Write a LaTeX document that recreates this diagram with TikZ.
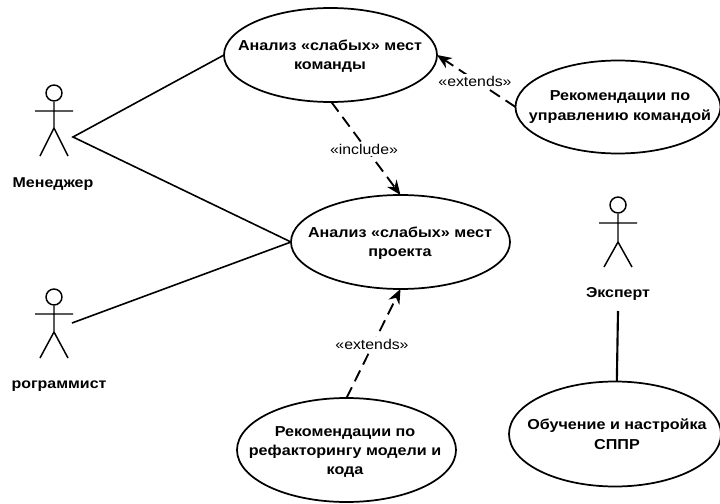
\documentclass[tikz,border=0pt]{standalone}
\usepackage{fontspec}
\setmainfont[FakeStretch=1.12]{Liberation Sans}
\usetikzlibrary{arrows.meta,shapes.geometric}
\tikzset{
 px/.style={x=0.75pt,y=-0.75pt},
 uc/.style n args={2}{draw,ellipse,line width=1.3pt,minimum width=#1*0.75pt,minimum height=#2*0.75pt,inner sep=0pt,outer sep=0pt},
 uct/.style={align=center,font=\bfseries\fontsize{10.8}{14.6}\selectfont,inner sep=0pt},
 lbl/.style={font=\bfseries\fontsize{10.7}{14}\selectfont,inner sep=0pt},
 stereo/.style={font=\fontsize{10.6}{14}\selectfont,inner sep=1pt,fill=white},
 assoc/.style={line width=1.2pt},
 actorline/.style={line width=1.1pt},
 dep/.style={line width=1.4pt,dash pattern=on 9pt off 5pt,-{Stealth[length=11pt,width=9pt]}}
}
\newcommand{\actorfig}[5]{% x, neck y, arm y, hip y, feet y
 \draw[actorline] (#1,#2-9) circle[radius=6pt];
 \draw[actorline] (#1,#2) -- (#1,#4) (#1-19,#3) -- (#1+19,#3) (#1,#4) -- (#1-14,#5) (#1,#4) -- (#1+14,#5);}
\begin{document}
\begin{tikzpicture}[px]
\useasboundingbox (0,0) rectangle (720,503);
\fill[white] (0,0) rectangle (720,503);
\actorfig{54}{102}{111}{128}{156}
\actorfig{54}{306}{314}{332}{358}
\actorfig{618}{214}{223}{242}{267}
\node[lbl] (lm) at (53,184) {Менеджер};
\node[lbl] (lp) at (59,386) {рограммист};
\node[lbl] (le) at (618,294) {Эксперт};
\node[uc={213}{94}] (a) at (330.5,55) {};
\node[uc={219}{94}] (b) at (400.5,242) {};
\node[uc={205}{93}] (c) at (618,107) {};
\node[uc={219}{104}] (d) at (346.5,450) {};
\node[uc={212}{105}] (f) at (615,434) {};
\node[uct] (ta) at (330,56) {Анализ «слабых» мест\\команды};
\node[uct] (tb) at (400,243) {Анализ «слабых» мест\\проекта};
\node[uct] (tc) at (620,107) {Рекомендации по\\управлению командой};
\node[uct] (td) at (345,452) {Рекомендации по\\рефакторингу модели и\\кода};
\node[uct] (tf) at (617,434) {Обучение и настройка\\СППР};
\coordinate (j) at (73,137);
\coordinate (pa) at (72,323);
\coordinate (ea) at (618,311);
\draw[assoc] (a.180) -- (j) -- (b.180);
\draw[assoc] (pa) -- (b.180);
\draw[assoc,line width=1.6pt] (ea) -- (f.88);
\draw[dep] (a.-89) -- (b.north);
\draw[dep] (c.180) -- (a.0);
\draw[dep] (d.north) -- (b.south);
\node[stereo] (s1) at (364,149) {«include»};
\node[stereo] (s2) at (475,81) {«extends»};
\node[stereo] (s3) at (372,344) {«extends»};
\end{tikzpicture}
\end{document}
